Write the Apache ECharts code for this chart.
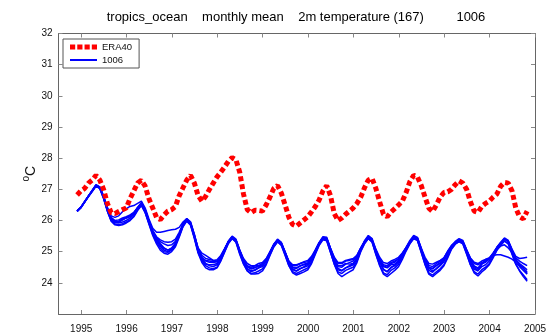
<!DOCTYPE html>
<html>
<head>
<meta charset="utf-8">
<script src="https://cdn.jsdelivr.net/npm/echarts@6/dist/echarts.min.js"></script>
<style>
html,body{margin:0;padding:0;background:#fff;}
#c{width:550px;height:334px;}
</style>
</head>
<body>
<div id="c"></div>
<script>
// first monthly sample time (decimal year); one sample per month
const T0 = 1994.91;
const xTickYears = [1995,1996,1997,1998,1999,2000,2001,2002,2003,2004,2005];
const yTickLabels = [24,25,26,27,28,29,30,31,32];

const era40 = [
26.82,26.95,27.03,27.20,27.30,27.45,27.30,27.00,26.55,26.25,26.22,26.29,
26.35,26.40,26.70,26.95,27.20,27.29,27.10,26.70,26.40,26.10,26.03,26.18,
26.30,26.35,26.45,26.80,27.05,27.30,27.45,27.20,26.80,26.62,26.78,27.00,
27.20,27.40,27.55,27.72,27.90,28.02,27.95,27.55,26.85,26.35,26.25,26.33,
26.32,26.30,26.50,26.75,27.03,27.12,26.88,26.50,26.10,25.87,25.82,25.92,
26.02,26.12,26.28,26.45,26.66,26.95,27.12,26.80,26.22,26.00,26.08,26.20,
26.30,26.40,26.55,26.75,27.05,27.30,27.35,27.03,26.60,26.20,26.12,26.27,
26.38,26.50,26.62,26.90,27.25,27.45,27.40,27.12,26.75,26.40,26.29,26.50,
26.75,26.90,26.92,27.00,27.15,27.27,27.20,27.00,26.60,26.30,26.26,26.45,
26.55,26.62,26.75,26.85,27.10,27.22,27.20,26.95,26.40,26.12,26.05,26.30
];

const runA = [
26.30,26.42,26.60,26.79,26.97,27.15,27.08,26.79,26.42,26.15,26.10,26.15,
26.28,26.38,26.45,26.48,26.55,26.62,26.40,26.05,25.75,25.62,25.62,25.65,
25.68,25.70,25.72,25.78,25.95,26.06,25.92,25.52,25.12,24.95,24.88,24.80,
24.72,24.70,24.85,25.08,25.32,25.47,25.37,25.05,24.78,24.62,24.55,24.55,
24.55,24.58,24.72,24.97,25.22,25.38,25.28,24.98,24.70,24.58,24.58,24.62,
24.65,24.68,24.80,25.04,25.28,25.46,25.44,25.12,24.82,24.65,24.65,24.72,
24.75,24.78,24.88,25.12,25.33,25.50,25.40,25.08,24.82,24.65,24.62,24.70,
24.75,24.82,24.96,25.14,25.33,25.48,25.44,25.12,24.82,24.62,24.60,24.66,
24.72,24.80,25.00,25.18,25.30,25.38,25.34,25.06,24.80,24.66,24.62,24.70,
24.75,24.80,24.95,25.13,25.28,25.42,25.35,25.08,24.85,24.78,24.80,24.82
];
const runB = [
26.30,26.41,26.59,26.77,26.93,27.10,27.02,26.70,26.30,26.00,25.88,25.86,
25.90,25.95,26.02,26.15,26.35,26.50,26.26,25.90,25.55,25.30,25.12,25.00,
24.98,25.05,25.20,25.50,25.82,26.00,25.86,25.45,24.98,24.70,24.55,24.48,
24.45,24.50,24.72,25.00,25.27,25.42,25.30,24.92,24.60,24.38,24.30,24.32,
24.38,24.45,24.62,24.90,25.16,25.32,25.20,24.88,24.55,24.36,24.30,24.36,
24.42,24.48,24.66,24.95,25.22,25.40,25.36,24.98,24.60,24.35,24.30,24.40,
24.45,24.50,24.70,25.02,25.27,25.42,25.30,24.92,24.58,24.32,24.26,24.40,
24.48,24.60,24.82,25.05,25.27,25.42,25.36,24.98,24.60,24.32,24.25,24.35,
24.45,24.58,24.85,25.10,25.25,25.32,25.25,24.92,24.58,24.36,24.28,24.42,
24.50,24.62,24.84,25.06,25.22,25.35,25.25,24.92,24.60,24.40,24.25,24.10
];
const runC = [
26.31,26.43,26.61,26.78,26.96,27.13,27.06,26.76,26.37,26.08,25.98,25.97,
26.02,26.08,26.15,26.25,26.40,26.54,26.33,25.98,25.65,25.45,25.32,25.25,
25.20,25.22,25.33,25.58,25.87,26.04,25.93,25.55,25.10,24.88,24.78,24.75,
24.72,24.74,24.88,25.10,25.33,25.48,25.38,25.04,24.74,24.52,24.44,24.48,
24.55,24.62,24.76,24.99,25.23,25.37,25.28,24.98,24.66,24.50,24.48,24.55,
24.58,24.62,24.76,25.02,25.27,25.44,25.42,25.08,24.74,24.55,24.55,24.62,
24.60,24.62,24.76,25.05,25.30,25.46,25.36,25.02,24.72,24.52,24.48,24.58,
24.60,24.70,24.88,25.10,25.31,25.47,25.42,25.08,24.74,24.50,24.45,24.55,
24.65,24.78,25.00,25.18,25.30,25.37,25.32,25.02,24.72,24.52,24.45,24.60,
24.68,24.78,24.95,25.14,25.28,25.40,25.32,25.02,24.72,24.56,24.46,24.35
];
const runD = [
26.29,26.41,26.59,26.77,26.94,27.11,27.03,26.72,26.30,25.98,25.86,25.84,
25.86,25.92,26.00,26.12,26.32,26.48,26.25,25.88,25.52,25.25,25.05,24.95,
24.92,25.00,25.16,25.46,25.80,25.98,25.85,25.42,24.95,24.65,24.48,24.42,
24.42,24.48,24.70,24.98,25.26,25.42,25.32,24.95,24.62,24.38,24.28,24.28,
24.30,24.38,24.58,24.88,25.15,25.32,25.22,24.90,24.55,24.32,24.25,24.30,
24.35,24.42,24.62,24.92,25.20,25.38,25.35,24.98,24.60,24.30,24.20,24.28,
24.35,24.42,24.65,25.00,25.25,25.42,25.32,24.92,24.55,24.28,24.20,24.30,
24.40,24.52,24.75,25.02,25.25,25.42,25.36,24.98,24.58,24.28,24.20,24.30,
24.40,24.55,24.80,25.08,25.24,25.32,25.26,24.94,24.58,24.32,24.22,24.35,
24.45,24.58,24.80,25.04,25.20,25.34,25.26,24.94,24.60,24.38,24.20,24.05
];
const runE = [
26.30,26.42,26.60,26.79,26.96,27.14,27.07,26.77,26.38,26.06,25.94,25.92,
25.95,26.00,26.08,26.22,26.42,26.58,26.36,26.00,25.66,25.42,25.26,25.12,
25.05,25.10,25.25,25.55,25.88,26.06,25.96,25.56,25.08,24.78,24.62,24.55,
24.52,24.58,24.78,25.06,25.34,25.50,25.40,25.05,24.72,24.46,24.36,24.40,
24.48,24.55,24.72,24.98,25.24,25.40,25.30,25.00,24.65,24.45,24.38,24.45,
24.52,24.60,24.78,25.05,25.30,25.48,25.46,25.10,24.72,24.46,24.40,24.48,
24.52,24.58,24.75,25.08,25.35,25.52,25.42,25.05,24.72,24.44,24.35,24.48,
24.58,24.70,24.90,25.14,25.36,25.52,25.46,25.10,24.74,24.46,24.38,24.45,
24.55,24.68,24.92,25.18,25.33,25.42,25.36,25.06,24.74,24.48,24.40,24.52,
24.58,24.70,24.90,25.14,25.30,25.44,25.36,25.06,24.75,24.58,24.48,24.30
];
const runF = [
26.30,26.42,26.60,26.78,26.95,27.12,27.05,26.74,26.33,26.02,25.92,25.94,
26.02,26.10,26.16,26.24,26.40,26.53,26.32,25.96,25.62,25.38,25.22,25.10,
25.05,25.12,25.28,25.56,25.86,26.02,25.90,25.48,25.02,24.78,24.72,24.70,
24.68,24.68,24.82,25.06,25.30,25.45,25.35,25.02,24.72,24.55,24.50,24.55,
24.62,24.65,24.78,25.00,25.22,25.36,25.26,24.98,24.68,24.55,24.55,24.62,
24.68,24.72,24.85,25.06,25.28,25.44,25.42,25.10,24.80,24.62,24.62,24.70,
24.72,24.75,24.88,25.12,25.32,25.46,25.36,25.04,24.76,24.58,24.55,24.65,
24.70,24.78,24.94,25.12,25.31,25.45,25.40,25.06,24.76,24.56,24.52,24.62,
24.70,24.80,25.02,25.20,25.30,25.36,25.30,25.04,24.78,24.62,24.58,24.65,
24.70,24.78,24.92,25.08,25.18,25.22,25.12,24.98,24.80,24.70,24.62,24.55
];
const runG = [
26.30,26.42,26.60,26.78,26.95,27.12,27.04,26.73,26.34,26.04,25.96,25.98,
26.05,26.08,26.12,26.20,26.36,26.50,26.28,25.93,25.58,25.34,25.18,25.05,
25.00,25.08,25.24,25.52,25.83,26.00,25.88,25.48,25.00,24.72,24.60,24.58,
24.58,24.62,24.80,25.05,25.29,25.44,25.34,24.98,24.66,24.44,24.38,24.42,
24.48,24.52,24.68,24.94,25.19,25.34,25.24,24.94,24.60,24.42,24.38,24.46,
24.50,24.55,24.72,24.98,25.24,25.41,25.38,25.02,24.66,24.42,24.38,24.48,
24.55,24.62,24.80,25.08,25.30,25.45,25.34,24.98,24.66,24.42,24.36,24.50,
24.55,24.66,24.86,25.08,25.29,25.44,25.38,25.02,24.66,24.40,24.34,24.46,
24.58,24.72,24.96,25.15,25.27,25.34,25.28,24.98,24.66,24.44,24.38,24.60,
24.75,24.80,24.88,24.90,24.90,24.86,24.82,24.76,24.66,24.52,24.40,24.28
];
const runH = [
26.31,26.43,26.61,26.79,26.96,27.13,27.06,26.78,26.40,26.10,26.00,26.02,
26.08,26.12,26.18,26.26,26.42,26.55,26.34,26.00,25.68,25.48,25.38,25.32,
25.30,25.32,25.40,25.62,25.90,26.05,25.92,25.52,25.06,24.82,24.70,24.66,
24.65,24.68,24.84,25.08,25.32,25.46,25.36,25.02,24.72,24.52,24.46,24.50,
24.52,24.56,24.72,24.96,25.20,25.35,25.26,24.96,24.64,24.48,24.46,24.54,
24.60,24.64,24.78,25.02,25.26,25.43,25.41,25.06,24.72,24.52,24.50,24.60,
24.65,24.70,24.84,25.10,25.31,25.46,25.36,25.02,24.74,24.54,24.50,24.62,
24.66,24.76,24.92,25.12,25.32,25.46,25.42,25.08,24.72,24.50,24.46,24.56,
24.62,24.74,24.97,25.16,25.29,25.36,25.31,25.02,24.72,24.54,24.48,24.62,
24.66,24.76,24.93,25.12,25.27,25.40,25.33,25.04,24.74,24.62,24.52,24.42
];
const runs = [runA, runB, runC, runD, runE, runF, runG, runH];

function pts(arr){ return arr.map((v,i)=>[T0 + i/12, v]); }

const chart = echarts.init(document.getElementById('c'), null, {renderer:'canvas'});
const FONT = 'Liberation Sans, Arial, Helvetica, sans-serif';
const axisCol = '#666';
const tickCol = '#888';

const blueSeries = runs.map(r => ({
  name: '1006', type: 'line', data: pts(r), showSymbol: false, symbol: 'none',
  smooth: false, lineStyle: {color: '#0000ff', width: 1.5}, itemStyle: {color: '#0000ff'},
  z: 2, silent: true, animation: false
}));

const option = {
  animation: false,
  backgroundColor: '#fff',
  title: {
    text: 'tropics_ocean    monthly mean    2m temperature (167)         1006',
    left: 291, top: 6, textAlign: 'center',
    textStyle: {fontFamily: FONT, fontSize: 13, fontWeight: 'normal', color: '#000'}
  },
  legend: {
    data: [
      {name: 'ERA40', icon: 'path://M0,0h5v5h-5zM7,0h5v5h-5zM14,0h5v5h-5zM21,0h5v5h-5z'},
      {name: '1006', icon: 'path://M0,0h30v0.01h-30zM0,2h30v2h-30zM0,5.99h30v0.01h-30z'}
    ],
    orient: 'vertical', left: 63, top: 39,
    borderColor: '#555', borderWidth: 1, borderRadius: 0,
    padding: [3, 7, 3, 7], itemGap: 3, itemWidth: 27, itemHeight: 6,
    textStyle: {fontFamily: FONT, fontSize: 9.5, color: '#111'},
    backgroundColor: '#fff'
  },
  grid: {left: 58.5, right: 15, top: 33.5, bottom: 15, containLabel: false},
  xAxis: [{
    type: 'value', min: 1994.5, max: 2005, position: 'bottom',
    axisLine: {onZero: false, lineStyle: {color: axisCol, width: 1}},
    axisTick: {inside: true, length: 4, customValues: xTickYears, lineStyle: {color: tickCol}},
    axisLabel: {customValues: xTickYears, formatter: v => String(Math.round(v)), fontFamily: FONT, fontSize: 10, color: '#111', margin: 10},
    splitLine: {show: false}
  }, {
    type: 'value', min: 1994.5, max: 2005, position: 'top',
    axisLine: {onZero: false, lineStyle: {color: axisCol, width: 1}},
    axisTick: {inside: true, length: 4, customValues: xTickYears, lineStyle: {color: tickCol}},
    axisLabel: {show: false}, splitLine: {show: false}
  }],
  yAxis: [{
    type: 'value', min: 23, max: 32, interval: 1, position: 'left',
    axisLine: {show: true, onZero: false, lineStyle: {color: axisCol, width: 1}},
    axisTick: {show: true, inside: true, length: 4, customValues: yTickLabels, lineStyle: {color: tickCol}},
    axisLabel: {customValues: yTickLabels, formatter: v => String(Math.round(v)), fontFamily: FONT, fontSize: 10, color: '#111', margin: 6},
    splitLine: {show: false},
    name: '{s|o}{c|C}', nameLocation: 'middle', nameGap: 17, nameRotate: 90,
    nameMoveOverlap: false,
    nameTextStyle: {
      fontFamily: FONT, color: '#111',
      rich: {
        s: {fontFamily: FONT, fontSize: 10, color: '#111', verticalAlign: 'top', lineHeight: 20, padding:[0,0,6,0]},
        c: {fontFamily: FONT, fontSize: 14, color: '#111', lineHeight: 20}
      }
    }
  }, {
    type: 'value', min: 23, max: 32, interval: 1, position: 'right',
    axisLine: {show: true, onZero: false, lineStyle: {color: axisCol, width: 1}},
    axisTick: {show: true, inside: true, length: 4, customValues: yTickLabels, lineStyle: {color: tickCol}},
    axisLabel: {show: false}, splitLine: {show: false}
  }],
  series: [
    {
      name: 'ERA40', type: 'line', data: pts(era40), showSymbol: false, symbol: 'none',
      lineStyle: {color: '#ff0000', width: 5, type: [5, 3], cap: 'butt'},
      itemStyle: {color: '#ff0000'}, z: 5, silent: true
    }
  ].concat(blueSeries)
};
chart.setOption(option);
</script>
</body>
</html>
